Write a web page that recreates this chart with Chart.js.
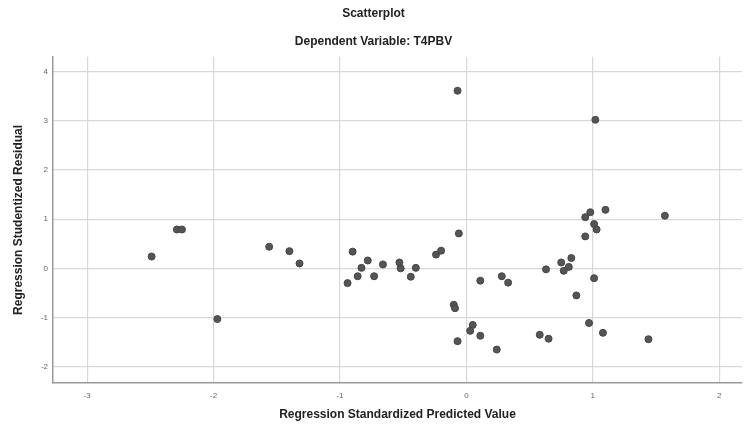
<!DOCTYPE html>
<html>
<head>
<meta charset="utf-8">
<script src="https://cdn.jsdelivr.net/npm/chart.js@4"></script>
<style>
  html, body { margin: 0; padding: 0; background: #fff; }
  #wrap { width: 747px; height: 428px; }
</style>
</head>
<body>
<div id="wrap"><canvas id="myChart"></canvas></div>
<script>
// Residual data
const predicted = [-2.49, -2.29, -2.25, -1.97, -1.56, -1.40, -1.32, -0.90, -0.94, -0.86,
  -0.83, -0.78, -0.73, -0.66, -0.53, -0.52, -0.44, -0.40, -0.24, -0.20,
  -0.06, -0.07, -0.10, -0.09, -0.07, 0.05, 0.03, 0.11, 0.11, 0.24,
  0.28, 0.33, 0.58, 0.65, 0.63, 0.75, 0.77, 0.81, 0.83, 0.87,
  0.94, 0.94, 0.98, 1.01, 1.03, 1.01, 0.97, 1.08, 1.02, 1.10,
  1.44, 1.57];
const residual = [0.24, 0.79, 0.79, -1.03, 0.44, 0.35, 0.10, 0.34, -0.30, -0.16,
  0.01, 0.16, -0.16, 0.08, 0.12, 0.00, -0.17, 0.01, 0.28, 0.36,
  0.71, 3.61, -0.74, -0.81, -1.48, -1.15, -1.27, -1.37, -0.25, -1.65,
  -0.16, -0.29, -1.35, -1.43, -0.02, 0.12, -0.05, 0.03, 0.21, -0.55,
  0.65, 1.04, 1.14, 0.90, 0.79, -0.20, -1.11, -1.31, 3.02, 1.19,
  -1.44, 1.07];
const xTicks = [-3, -2, -1, 0, 1, 2];
const yTicks = [-2, -1, 0, 1, 2, 3, 4];

const points = predicted.map((x, i) => ({ x: x, y: residual[i] }));
const font = "'Liberation Sans', Arial, sans-serif";

const ctx = document.getElementById('myChart');

new Chart(ctx, {
  type: 'scatter',
  data: {
    datasets: [{
      data: points,
      backgroundColor: '#555555',
      borderColor: '#444444',
      borderWidth: 1,
      pointRadius: 3.5
    }]
  },
  options: {
    responsive: true,
    maintainAspectRatio: false,
    animation: false,
    layout: { padding: 0 },
    plugins: {
      legend: { display: false },
      tooltip: { enabled: false },
      title: {
        display: true,
        text: 'Scatterplot',
        color: '#222',
        font: { family: font, size: 12, weight: 'bold' },
        padding: { top: 6, bottom: 7 }
      },
      subtitle: {
        display: true,
        text: 'Dependent Variable: T4PBV',
        color: '#222',
        font: { family: font, size: 12, weight: 'bold' },
        padding: { top: 7, bottom: 8 }
      }
    },
    scales: {
      x: {
        type: 'linear',
        min: -3.27,
        max: 2.18,
        afterBuildTicks: s => { s.ticks = xTicks.map(v => ({ value: v })); },
        afterFit: s => { s.height = 45; },
        grid: { color: '#d8d8d8', lineWidth: 1.2, drawTicks: false },
        border: { color: '#999', width: 1.5 },
        ticks: { color: '#666', font: { family: font, size: 8 }, padding: 8 },
        title: {
          display: true,
          text: 'Regression Standardized Predicted Value',
          color: '#222',
          font: { family: font, size: 12, weight: 'bold' },
          padding: { top: 0, bottom: 6 }
        }
      },
      y: {
        type: 'linear',
        min: -2.33,
        max: 4.3,
        afterBuildTicks: s => { s.ticks = yTicks.map(v => ({ value: v })); },
        afterFit: s => { s.width = 53; },
        grid: { color: '#d8d8d8', lineWidth: 1.2, drawTicks: false },
        border: { color: '#999', width: 1.5 },
        ticks: { color: '#666', font: { family: font, size: 8 }, padding: 5 },
        title: {
          display: true,
          text: 'Regression Studentized Residual',
          color: '#222',
          font: { family: font, size: 12, weight: 'bold' },
          padding: { top: 11, bottom: 0 }
        }
      }
    }
  }
});
</script>
</body>
</html>
